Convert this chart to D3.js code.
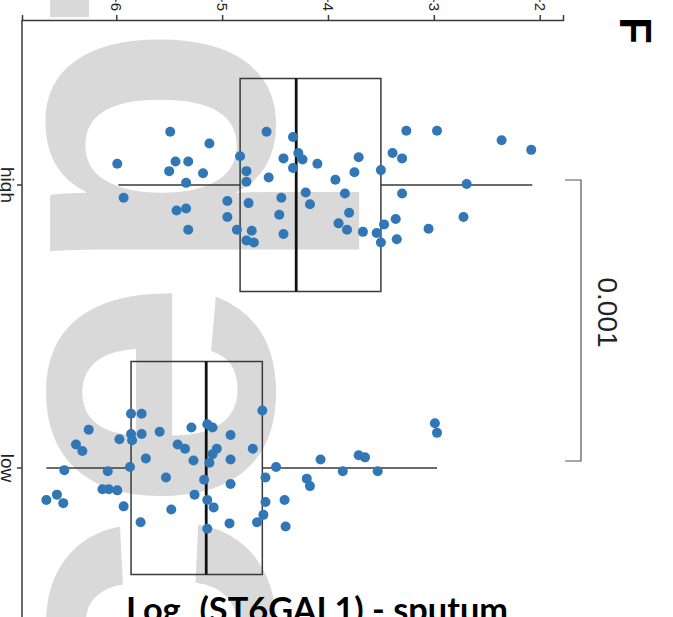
<!DOCTYPE html>
<html>
<head>
<meta charset="utf-8">
<script src="https://cdn.jsdelivr.net/npm/d3@7/dist/d3.min.js"></script>
<style>
  body { margin: 0; background: #fff; }
  svg { display: block; }
</style>
</head>
<body>
<div id="chart"></div>
<script>
// ---- data ----
const categories = ["high", "low"];
const tickValues = [-6, -5, -4, -3, -2];

const highValues = [-5.49, -4.58, -4.33, -3.26, -2.97, -2.36, -2.08, -5.12, -4.28, -4.24,
  -3.39, -3.30, -3.71, -5.99, -5.44, -5.32, -4.83, -4.42, -4.10, -4.33,
  -5.50, -5.18, -4.77, -3.75, -3.50, -5.34, -4.77, -4.56, -3.93, -2.69,
  -5.93, -4.44, -4.21, -3.84, -3.30, -5.43, -5.34, -4.95, -4.75, -4.17,
  -4.95, -4.46, -3.80, -2.72, -3.36, -5.32, -4.86, -4.72, -4.77, -4.70,
  -4.42, -3.90, -3.82, -3.67, -3.54, -3.47, -3.50, -3.35, -3.05];
const highJitter = [-0.50, -0.50, -0.45, -0.51, -0.51, -0.42, -0.33, -0.39, -0.30, -0.24,
  -0.30, -0.25, -0.26, -0.20, -0.22, -0.22, -0.27, -0.25, -0.20, -0.16,
  -0.13, -0.11, -0.13, -0.12, -0.14, -0.02, -0.03, -0.07, -0.05, -0.01,
  0.12, 0.12, 0.07, 0.08, 0.08, 0.24, 0.22, 0.15, 0.17, 0.18,
  0.30, 0.28, 0.26, 0.30, 0.32, 0.42, 0.42, 0.43, 0.52, 0.54,
  0.46, 0.36, 0.42, 0.44, 0.45, 0.37, 0.54, 0.51, 0.41];

const lowValues = [-5.86, -5.76, -4.62, -2.99, -2.97, -6.26, -5.97, -5.86, -5.85, -5.76,
  -5.59, -5.29, -5.14, -5.09, -4.92, -6.38, -6.32, -5.42, -5.35, -5.05,
  -5.09, -4.71, -5.72, -5.27, -5.12, -4.92, -4.07, -3.71, -3.65, -6.49,
  -6.08, -5.87, -4.49, -3.86, -3.53, -5.53, -5.17, -4.59, -4.20, -4.17,
  -4.92, -6.13, -6.07, -5.99, -5.26, -6.66, -6.56, -6.50, -5.93, -5.48,
  -5.14, -5.08, -4.59, -4.41, -5.77, -5.14, -4.93, -4.67, -4.61, -4.40];
const lowJitter = [-0.51, -0.51, -0.54, -0.42, -0.33, -0.36, -0.27, -0.32, -0.26, -0.32,
  -0.34, -0.38, -0.41, -0.38, -0.31, -0.22, -0.16, -0.22, -0.18, -0.18,
  -0.13, -0.18, -0.09, -0.07, -0.05, -0.08, -0.08, -0.12, -0.10, 0.02,
  0.03, -0.01, -0.01, 0.03, 0.03, 0.09, 0.11, 0.09, 0.10, 0.17,
  0.15, 0.20, 0.20, 0.21, 0.25, 0.30, 0.25, 0.33, 0.36, 0.39,
  0.30, 0.37, 0.32, 0.30, 0.51, 0.57, 0.52, 0.51, 0.44, 0.55];

// box statistics per category (high, low)
const q1 = [-4.83, -5.86];
const medians = [-4.30, -5.15];
const q3 = [-3.50, -4.62];
const whiskerLow = [-5.98, -6.66];
const whiskerHigh = [-2.07, -2.97];

const pValue = "0.001";
const panelLetter = "F";

// ---- style ----
const WIDTH = 673, HEIGHT = 617;
const COLOR_POINT = "#3177b6";
const COLOR_LINE = "#3a3a3a";
const COLOR_WATERMARK = "#d9d9d9";
const AXIS_FONT = "Liberation Sans, Arial, sans-serif";

const svg = d3.select("#chart").append("svg")
  .attr("width", WIDTH)
  .attr("height", HEIGHT);

// watermark (behind everything)
svg.append("text")
  .attr("transform", "translate(272,1283) rotate(-90)")
  .attr("font-family", AXIS_FONT)
  .attr("font-weight", "bold")
  .attr("font-size", 420)
  .attr("fill", COLOR_WATERMARK)
  .text("Accepted");

// value axis runs horizontally, categories run vertically (figure is turned on its side)
const x = d3.scaleLinear().domain([-6.89, -1.78]).range([22, 563]);
const y = d3.scalePoint().domain(categories).range([185, 468]);
const halfBox = 106.5;

// value axis (top)
svg.append("g")
  .attr("transform", "translate(0,20)")
  .call(d3.axisTop(x).tickValues(tickValues).tickSizeOuter(0).tickSize(5).tickFormat(d3.format("d")))
  .call(g => {
    g.select(".domain").attr("stroke", COLOR_LINE).attr("stroke-width", 1.5);
    g.selectAll(".tick line").attr("stroke", COLOR_LINE).attr("stroke-width", 1.5);
    g.selectAll(".tick text")
      .attr("x", 0).attr("y", 0).attr("dy", "0.35em")
      .attr("transform", "translate(0,-9) rotate(90)")
      .attr("text-anchor", "end")
      .attr("font-size", 15)
      .attr("font-family", AXIS_FONT)
      .attr("fill", "#222");
  });

// category axis (left)
svg.append("line")
  .attr("x1", 22).attr("x2", 22)
  .attr("y1", 20).attr("y2", HEIGHT)
  .attr("stroke", COLOR_LINE).attr("stroke-width", 1.5);
svg.append("g").selectAll("line.ctick")
  .data(categories).enter().append("line")
  .attr("x1", 22).attr("x2", 17)
  .attr("y1", d => y(d)).attr("y2", d => y(d))
  .attr("stroke", COLOR_LINE).attr("stroke-width", 1.5);
svg.append("g").selectAll("text.clabel")
  .data(categories).enter().append("text")
  .attr("transform", d => "translate(1," + y(d) + ") rotate(90)")
  .attr("text-anchor", "middle")
  .attr("font-size", 19)
  .attr("font-family", AXIS_FONT)
  .attr("fill", "#222")
  .text(d => d);

// boxes
const boxLayer = svg.append("g");
categories.forEach((c, i) => {
  const cy = y(c);
  boxLayer.append("line")
    .attr("x1", x(whiskerLow[i])).attr("x2", x(q1[i]))
    .attr("y1", cy).attr("y2", cy)
    .attr("stroke", COLOR_LINE).attr("stroke-width", 1.5);
  boxLayer.append("line")
    .attr("x1", x(q3[i])).attr("x2", x(whiskerHigh[i]))
    .attr("y1", cy).attr("y2", cy)
    .attr("stroke", COLOR_LINE).attr("stroke-width", 1.5);
  boxLayer.append("rect")
    .attr("x", x(q1[i])).attr("width", x(q3[i]) - x(q1[i]))
    .attr("y", cy - halfBox).attr("height", halfBox * 2)
    .attr("fill", "none")
    .attr("stroke", COLOR_LINE).attr("stroke-width", 1.5);
  boxLayer.append("line")
    .attr("x1", x(medians[i])).attr("x2", x(medians[i]))
    .attr("y1", cy - halfBox).attr("y2", cy + halfBox)
    .attr("stroke", "#111").attr("stroke-width", 2.8);
});

// points
const pointLayer = svg.append("g");
[[highValues, highJitter], [lowValues, lowJitter]].forEach(([vals, jit], i) => {
  const cy = y(categories[i]);
  pointLayer.selectAll(null)
    .data(vals.map((v, k) => ({ v: v, j: jit[k] })))
    .enter().append("circle")
    .attr("cx", d => x(d.v))
    .attr("cy", d => cy + d.j * halfBox)
    .attr("r", 5)
    .attr("fill", COLOR_POINT);
});

// significance bracket
const bx = 581;
svg.append("path")
  .attr("d", `M${bx - 16},${y("high") - 5} H${bx} V${y("low") - 7} H${bx - 16}`)
  .attr("fill", "none")
  .attr("stroke", "#555")
  .attr("stroke-width", 1.2);
svg.append("text")
  .attr("transform", `translate(598,${(y("high") + y("low")) / 2 - 14}) rotate(90)`)
  .attr("text-anchor", "middle")
  .attr("font-size", 28)
  .attr("font-family", AXIS_FONT)
  .attr("fill", "#222")
  .text(pValue);

// panel letter
svg.append("text")
  .attr("transform", "translate(620,17) rotate(90)")
  .attr("font-size", 44)
  .attr("font-weight", "bold")
  .attr("font-family", AXIS_FONT)
  .attr("fill", "#000")
  .text(panelLetter);

// title at the bottom (its lower part, with the subscript, falls below the frame)
const title = svg.append("text")
  .attr("x", 126)
  .attr("y", 622)
  .attr("font-family", "Lato, Open Sans, sans-serif")
  .attr("font-weight", "bold")
  .attr("font-size", 30)
  .attr("fill", "#000");
title.append("tspan").text("Log");
title.append("tspan").attr("dy", 16).attr("dx", 3).attr("font-size", 22).text("2");
title.append("tspan").attr("dy", -16).attr("dx", 3).text("(ST6GAL1) - sputum");
// fit the title to its width in the figure
const tw = title.node().getComputedTextLength();
title.attr("font-size", 30 * 378 / tw);
</script>
</body>
</html>
